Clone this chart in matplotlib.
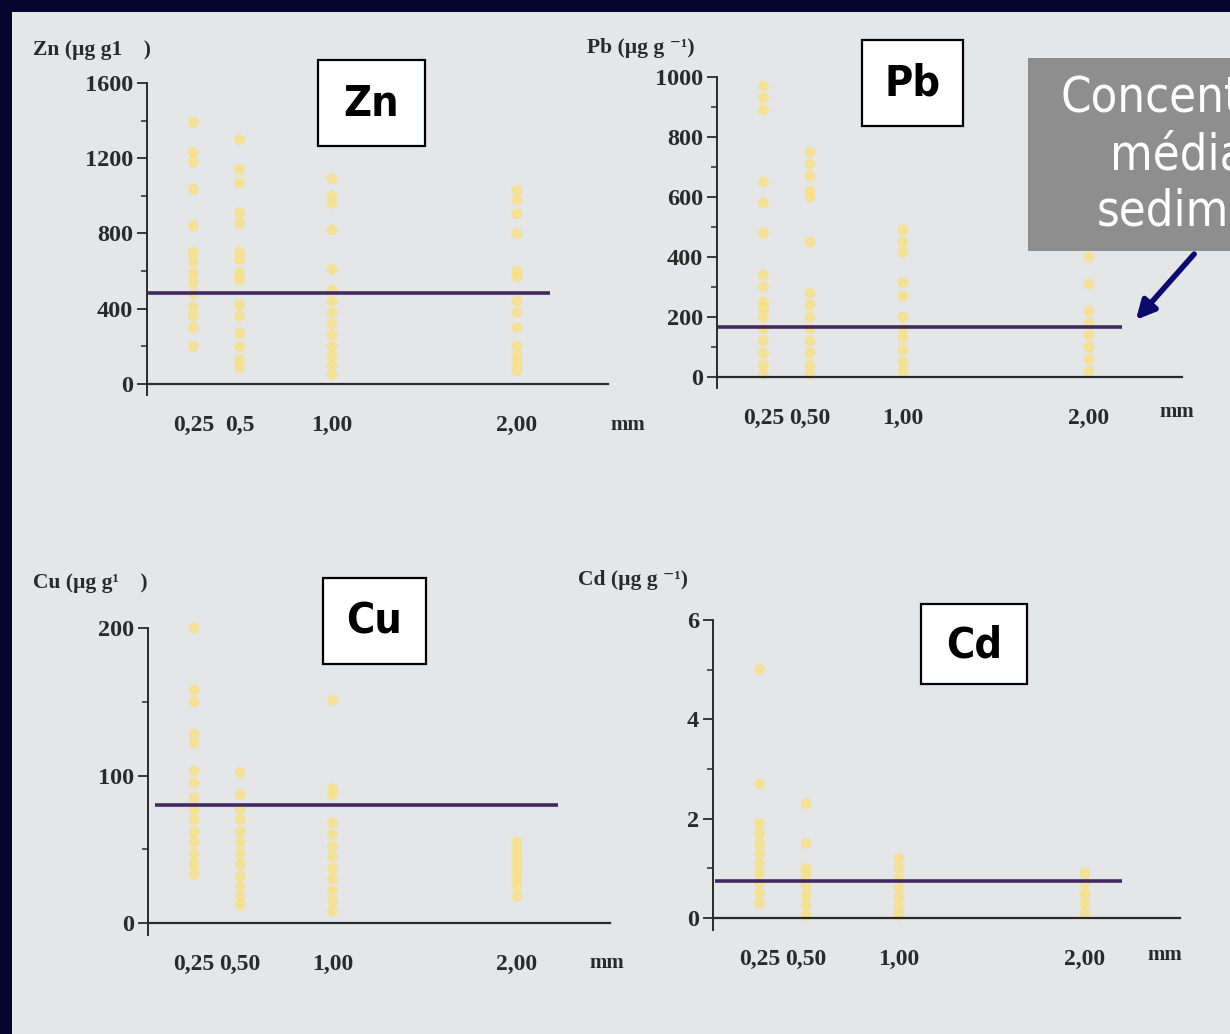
import matplotlib
matplotlib.use("Agg")
import matplotlib.pyplot as plt
from matplotlib.patches import Rectangle, FancyArrowPatch
from matplotlib.ticker import MultipleLocator, FixedLocator
from matplotlib import font_manager

# ---------------- data ----------------
sizes = [0.25, 0.50, 1.00, 2.00]

zn_025 = [1390, 1230, 1180, 1035, 840, 700, 650, 590, 540, 480, 410, 360, 300, 200]
zn_050 = [1300, 1140, 1070, 910, 855, 700, 660, 590, 555, 420, 360, 270, 200, 130, 90]
zn_100 = [1090, 1000, 960, 820, 610, 500, 440, 380, 320, 260, 200, 150, 100, 50]
zn_200 = [1030, 980, 905, 800, 600, 570, 440, 380, 300, 200, 150, 110, 70]
zn_mean = 485

pb_025 = [970, 930, 890, 650, 580, 480, 340, 300, 250, 230, 200, 160, 120, 80, 40, 10]
pb_050 = [750, 710, 670, 620, 600, 450, 280, 240, 200, 160, 120, 80, 40, 10]
pb_100 = [490, 450, 415, 315, 270, 200, 160, 130, 90, 50, 20]
pb_200 = [460, 400, 310, 220, 180, 140, 100, 60, 20]
pb_mean = 165

cu_025 = [200, 158, 150, 128, 122, 103, 95, 85, 77, 70, 62, 55, 47, 40, 33]
cu_050 = [102, 87, 77, 70, 62, 55, 47, 40, 32, 25, 18, 12]
cu_100 = [151, 91, 87, 68, 60, 52, 45, 37, 30, 22, 15, 8]
cu_200 = [55, 50, 45, 40, 35, 30, 25, 18]
cu_mean = 80

cd_025 = [5.0, 2.7, 1.9, 1.7, 1.5, 1.3, 1.1, 0.9, 0.7, 0.5, 0.3]
cd_050 = [2.3, 1.5, 1.0, 0.85, 0.65, 0.45, 0.25, 0.05]
cd_100 = [1.2, 1.0, 0.8, 0.6, 0.4, 0.2, 0.05]
cd_200 = [0.9, 0.7, 0.5, 0.3, 0.1]
cd_mean = 0.75

zn_ticks = [0, 400, 800, 1200, 1600]
pb_ticks = [0, 200, 400, 600, 800, 1000]
cu_ticks = [0, 100, 200]
cd_ticks = [0, 2, 4, 6]

zn_xlabels = ["0,25", "0,5", "1,00", "2,00"]
pb_xlabels = ["0,25", "0,50", "1,00", "2,00"]
cu_xlabels = ["0,25", "0,50", "1,00", "2,00"]
cd_xlabels = ["0,25", "0,50", "1,00", "2,00"]

# ---------------- style ----------------
W, H = 1230, 1034
NARROW, STRETCH = "Liberation Sans", "normal"
_names = {f.name for f in font_manager.fontManager.ttflist}
if "Liberation Sans Narrow" in _names:
    NARROW, STRETCH = "Liberation Sans Narrow", "normal"
else:
    for f in font_manager.fontManager.ttflist:
        if str(f.stretch) in ("condensed", "semi-condensed", "extra-condensed") and "Sans" in f.name:
            NARROW, STRETCH = f.name, f.stretch
            break
SERIF = ["Liberation Serif", "DejaVu Serif"]
NAVY = "#04042e"
PAPER = "#e4e6e8"
DOT = "#fae07a"
LINE = "#422a60"
INK = "#2a2a2a"

fig = plt.figure(figsize=(W / 100, H / 100), dpi=100, facecolor=NAVY)
fig.patches.append(Rectangle((12 / W, 0), 1, 1 - 12 / H, transform=fig.transFigure,
                             facecolor=PAPER, edgecolor="none", zorder=-10))


def fx(px):
    return px / W


def fy(py):
    return 1 - py / H


def panel(left, right, top, zero, bottom, ymax, xmax, cols, mean, line_x, ticks,
          minor, xlabels, ylab, ylab_xy, mm_xy):
    ax = fig.add_axes([fx(left), fy(bottom), (right - left) / W, (bottom - top) / H])
    ax.set_facecolor("none")
    ymin = -ymax * (bottom - zero) / (zero - top)
    ax.set_xlim(0, xmax)
    ax.set_ylim(ymin, ymax)
    for s, vals in zip(sizes, cols):
        ax.scatter([s] * len(vals), vals, s=62, color=DOT, alpha=0.7,
                   edgecolors="none", zorder=2, clip_on=False)
    ax.hlines(mean, line_x[0], line_x[1], color=LINE, lw=2.6, zorder=3)
    for sp in ("top", "right"):
        ax.spines[sp].set_visible(False)
    ax.spines["bottom"].set_position(("data", 0))
    ax.spines["bottom"].set_color(INK)
    ax.spines["bottom"].set_linewidth(1.6)
    ax.spines["left"].set_color(INK)
    ax.spines["left"].set_linewidth(1.4)
    ax.spines["left"].set_bounds(ymin, ymax)
    ax.yaxis.set_major_locator(FixedLocator(ticks))
    ax.yaxis.set_minor_locator(MultipleLocator(minor))
    ax.tick_params(axis="y", which="major", length=7, width=1.3, color=INK,
                   labelsize=17.5, labelcolor=INK, pad=3)
    ax.tick_params(axis="y", which="minor", length=4, width=1.1, color=INK)
    ax.set_yticklabels([str(t) for t in ticks], fontfamily=SERIF, fontweight="bold")
    ax.set_xticks(sizes)
    ax.set_xticklabels(xlabels, fontfamily=SERIF, fontweight="bold")
    ax.tick_params(axis="x", length=0, labelsize=17, labelcolor=INK, pad=22)
    fig.text(fx(ylab_xy[0]), fy(ylab_xy[1]), ylab, fontfamily=SERIF, fontweight="bold",
             fontsize=15.5, color=INK, ha="left", va="center")
    fig.text(fx(mm_xy[0]), fy(mm_xy[1]), "mm", fontfamily=SERIF, fontweight="bold",
             fontsize=15, color=INK, ha="center", va="center")
    return ax


panel(147, 608, 83, 384, 395, 1600, (608 - 147) / 185,
      [zn_025, zn_050, zn_100, zn_200], zn_mean, (0.0, 2.18), zn_ticks, 200,
      zn_xlabels, "Zn (µg g1    )", (33, 50), (628, 425))
panel(717, 1182, 77, 377, 388, 1000, (1182 - 717) / 186,
      [pb_025, pb_050, pb_100, pb_200], pb_mean, (0.0, 2.18), pb_ticks, 100,
      pb_xlabels, "Pb (µg g ⁻¹)", (587, 48), (1177, 412))
panel(148, 610, 628, 923, 935, 200, (610 - 148) / 184.5,
      [cu_025, cu_050, cu_100, cu_200], cu_mean, (0.04, 2.22), cu_ticks, 50,
      cu_xlabels, "Cu (µg g¹    )", (33, 583), (607, 963))
panel(713, 1180, 620, 918, 930, 6, (1180 - 713) / 186,
      [cd_025, cd_050, cd_100, cd_200], cd_mean, (0.01, 2.2), cd_ticks, 1,
      cd_xlabels, "Cd (µg g ⁻¹)", (578, 580), (1165, 955))

# element label boxes
for name, (x0, y0, x1, y1) in [("Zn", (318, 60, 425, 146)), ("Pb", (862, 40, 963, 126)),
                               ("Cu", (323, 578, 426, 664)), ("Cd", (921, 604, 1027, 684))]:
    fig.patches.append(Rectangle((fx(x0), fy(y1)), (x1 - x0) / W, (y1 - y0) / H,
                                 transform=fig.transFigure, facecolor="white",
                                 edgecolor="black", linewidth=1.6, zorder=5))
    fig.text(fx((x0 + x1) / 2), fy((y0 + y1) / 2 + 1), name, fontfamily=NARROW,
             fontstretch=STRETCH, fontweight="bold", fontsize=31, color="black",
             ha="center", va="center", zorder=6)

# callout box (cut off at the right edge, as in the source slide)
fig.patches.append(Rectangle((fx(1028), fy(251)), (1240 - 1028) / W, (251 - 58) / H,
                             transform=fig.transFigure, facecolor="#8e8e8e",
                             edgecolor="none", zorder=5))
for txt, yy in [("Concentração", 98), ("média no", 155), ("sedimento", 212)]:
    fig.text(fx(1212), fy(yy), txt, fontfamily=NARROW, fontstretch=STRETCH, fontsize=35,
             color="white", ha="center", va="center", zorder=6)

fig.patches.append(FancyArrowPatch((fx(1196), fy(252)), (fx(1134), fy(322)),
                                   transform=fig.transFigure, arrowstyle="-|>",
                                   mutation_scale=28, color="#0b0b6e", lw=4, zorder=6))

fig.savefig("out.png", dpi=100, facecolor=NAVY)
